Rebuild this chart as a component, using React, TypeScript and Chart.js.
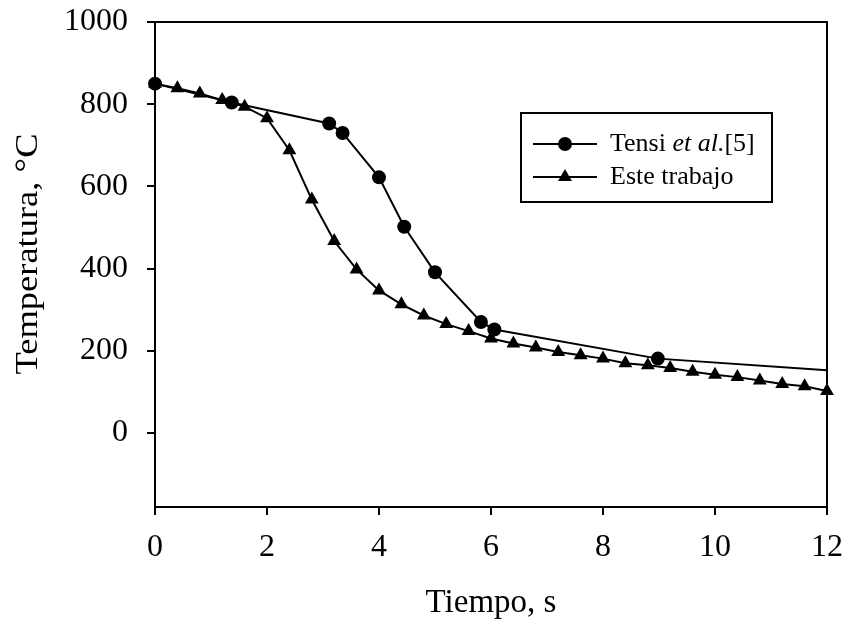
import { useEffect, useRef } from "react";
import { Chart, registerables } from "chart.js";

Chart.register(...registerables);

// Tensi et al. [5] cooling curve
const tensiTime = [0, 1.37, 3.11, 3.35, 4.0, 4.45, 5.0, 5.82, 6.06, 8.98, 12];
const tensiTemp = [850, 804, 753, 730, 622, 502, 391, 270, 252, 181, 153];

// Present work, sampled every 0.4 s
const trabajoTime = [
  0, 0.4, 0.8, 1.2, 1.6, 2.0, 2.4, 2.8, 3.2, 3.6, 4.0, 4.4, 4.8, 5.2, 5.6, 6.0,
  6.4, 6.8, 7.2, 7.6, 8.0, 8.4, 8.8, 9.2, 9.6, 10.0, 10.4, 10.8, 11.2, 11.6, 12.0,
];
const trabajoTemp = [
  850, 839, 826, 810, 794, 766, 688, 568, 467, 398, 347, 313, 286, 265, 248, 230,
  218, 208, 197, 189, 181, 170, 165, 158, 149, 142, 136, 128, 119, 114, 102,
];

const xTicks = [0, 2, 4, 6, 8, 10, 12];
const yTicks = [0, 200, 400, 600, 800, 1000];

const FONT = "'Liberation Serif', 'Times New Roman', serif";
const Y_TITLE = "Temperatura, °C";

// Boxed legend drawn inside the plot, with the italic "et al."
const legendPlugin = {
  id: "boxedLegend",
  afterDraw(chart: any) {
    const ctx = chart.ctx as CanvasRenderingContext2D;
    ctx.save();
    const box = { x: 521, y: 113, w: 251, h: 89 };
    ctx.lineWidth = 2;
    ctx.strokeStyle = "#000";
    ctx.fillStyle = "#fff";
    ctx.fillRect(box.x, box.y, box.w, box.h);
    ctx.strokeRect(box.x, box.y, box.w, box.h);

    const rows = [
      { y: 144, style: "circle", parts: [["Tensi ", "normal"], ["et al.", "italic"], ["[5]", "normal"]] },
      { y: 177, style: "triangle", parts: [["Este trabajo", "normal"]] },
    ];
    for (const r of rows) {
      ctx.beginPath();
      ctx.moveTo(533, r.y);
      ctx.lineTo(597, r.y);
      ctx.lineWidth = 2;
      ctx.strokeStyle = "#000";
      ctx.stroke();
      ctx.fillStyle = "#000";
      if (r.style === "circle") {
        ctx.beginPath();
        ctx.arc(565, r.y, 7, 0, Math.PI * 2);
        ctx.fill();
      } else {
        const rad = 8;
        ctx.beginPath();
        ctx.moveTo(565, r.y - rad);
        ctx.lineTo(565 + rad * 0.866, r.y + rad / 2);
        ctx.lineTo(565 - rad * 0.866, r.y + rad / 2);
        ctx.closePath();
        ctx.fill();
      }
      let x = 610;
      ctx.textBaseline = "middle";
      ctx.textAlign = "left";
      for (const [txt, st] of r.parts) {
        ctx.font = `${st === "italic" ? "italic " : ""}26px ${FONT}`;
        ctx.fillText(txt, x, r.y);
        x += ctx.measureText(txt).width;
      }
    }
    ctx.restore();
  },
};

// Top and right edges of the plot frame
const framePlugin = {
  id: "frame",
  beforeDatasetsDraw(chart: any) {
    const { ctx, chartArea: a } = chart;
    ctx.save();
    ctx.strokeStyle = "#000";
    ctx.lineWidth = 2;
    ctx.beginPath();
    ctx.moveTo(a.left, a.top);
    ctx.lineTo(a.right, a.top);
    ctx.lineTo(a.right, a.bottom);
    ctx.stroke();
    ctx.restore();
  },
};

// Rotated y-axis title, slightly tall lettering
const yTitlePlugin = {
  id: "yTitle",
  afterDraw(chart: any) {
    const ctx = chart.ctx as CanvasRenderingContext2D;
    ctx.save();
    ctx.translate(29, 254);
    ctx.rotate(-Math.PI / 2);
    ctx.scale(1.14, 1);
    ctx.font = `32px ${FONT}`;
    ctx.fillStyle = "#000";
    ctx.textAlign = "center";
    ctx.textBaseline = "middle";
    ctx.fillText(Y_TITLE, 0, 0);
    ctx.restore();
  },
};

export default function App() {
  const ref = useRef<HTMLCanvasElement>(null);

  useEffect(() => {
    document.body.style.margin = "0";
    const canvas = ref.current;
    if (!canvas) return;

    const chart = new Chart(canvas, {
      type: "line",
      data: {
        datasets: [
          {
            label: "Tensi et al.[5]",
            data: tensiTime.map((t, i) => ({ x: t, y: tensiTemp[i] })),
            borderColor: "#000",
            backgroundColor: "#000",
            borderWidth: 2,
            pointStyle: "circle",
            pointRadius: tensiTime.map((t) => (t >= 12 ? 0 : 7)),
            pointBorderWidth: 0,
            tension: 0,
            clip: false as any,
          },
          {
            label: "Este trabajo",
            data: trabajoTime.map((t, i) => ({ x: t, y: trabajoTemp[i] })),
            borderColor: "#000",
            backgroundColor: "#000",
            borderWidth: 2,
            pointStyle: "triangle",
            pointRadius: 8,
            pointBorderWidth: 0,
            tension: 0,
            clip: false as any,
          },
        ],
      },
      options: {
        responsive: false,
        animation: false,
        devicePixelRatio: 1,
        layout: { padding: { top: 22, right: 20, left: 0, bottom: 0 } },
        plugins: { legend: { display: false }, tooltip: { enabled: false } },
        scales: {
          x: {
            type: "linear",
            min: 0,
            max: 12,
            afterBuildTicks: (s: any) => {
              s.ticks = xTicks.map((v) => ({ value: v }));
            },
            afterFit: (s: any) => {
              s.height = 116;
              s.paddingLeft = 0;
              s.paddingRight = 0;
            },
            grid: { drawOnChartArea: false, color: "#000", lineWidth: 2, tickLength: 8 },
            border: { color: "#000", width: 2 },
            ticks: {
              color: "#000",
              font: { family: FONT, size: 32 },
              padding: 13,
              maxRotation: 0,
              autoSkip: false,
              callback: (v: any) => String(v),
            },
            title: {
              display: true,
              text: "Tiempo, s",
              color: "#000",
              font: { family: FONT, size: 33 },
              padding: { top: 0, bottom: 0 },
            },
          },
          y: {
            type: "linear",
            min: -180,
            max: 1000,
            afterBuildTicks: (s: any) => {
              s.ticks = yTicks.map((v) => ({ value: v }));
            },
            afterFit: (s: any) => {
              s.width = 155;
              s.paddingTop = 0;
              s.paddingBottom = 0;
            },
            grid: { drawOnChartArea: false, color: "#000", lineWidth: 2, tickLength: 8 },
            border: { color: "#000", width: 2 },
            ticks: {
              color: "#000",
              font: { family: FONT, size: 32 },
              padding: 19,
              autoSkip: false,
              callback: (v: any) => String(v),
            },
            title: { display: false },
          },
        },
      },
      plugins: [framePlugin, legendPlugin, yTitlePlugin],
    });

    return () => chart.destroy();
  }, []);

  return <canvas ref={ref} width={847} height={623} style={{ display: "block" }} />;
}
